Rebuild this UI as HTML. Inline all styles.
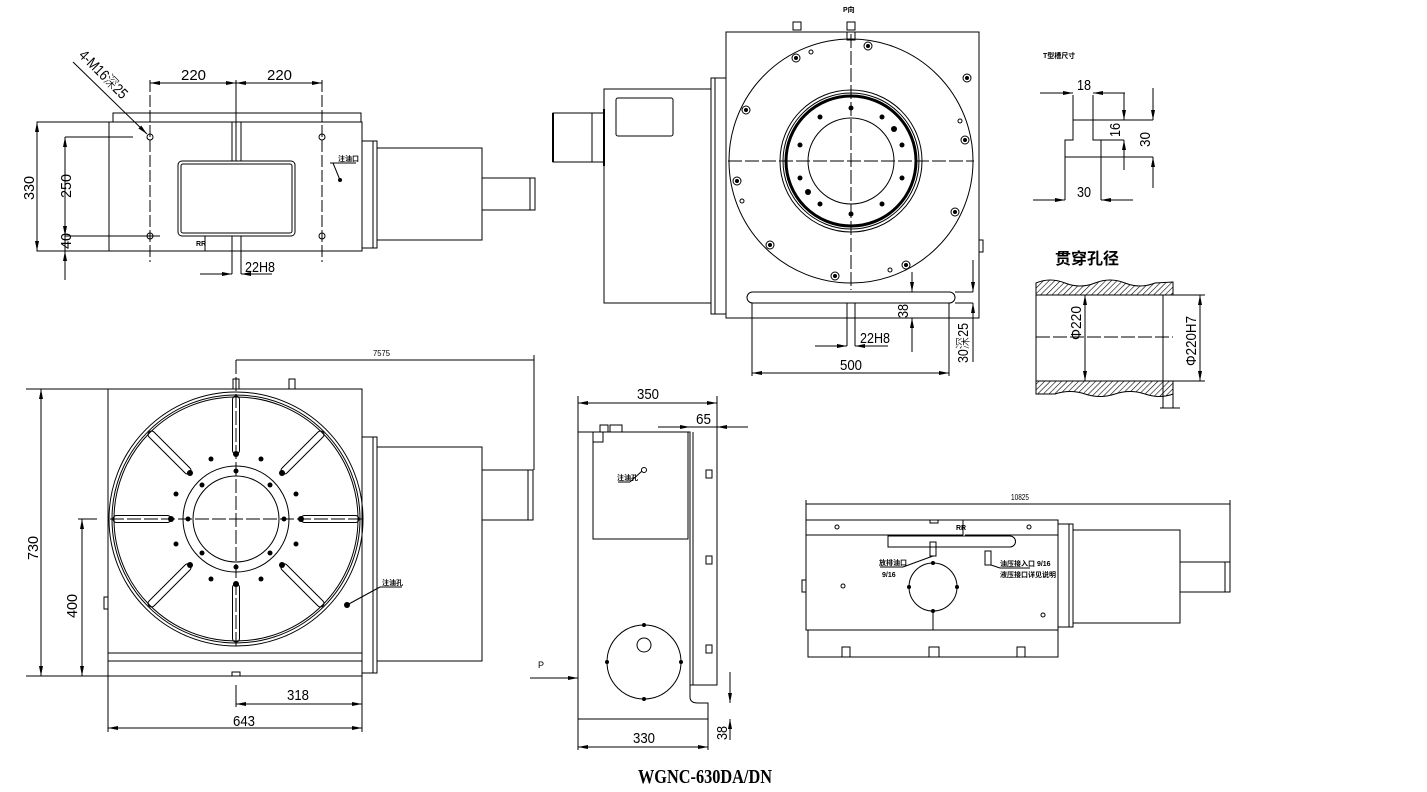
<!DOCTYPE html>
<html><head><meta charset="utf-8"><style>
html,body{margin:0;padding:0;background:#fff;}
svg{display:block;}
text{font-family:"Liberation Sans","Noto Sans CJK SC",sans-serif;fill:#000;}
.d{font-size:15px;font-weight:300;}
.s{font-size:7px;font-weight:bold;}
</style></head><body>
<svg width="1427" height="792" viewBox="0 0 1427 792" xmlns="http://www.w3.org/2000/svg">
<defs>
<marker id="a" viewBox="0 0 10 4" refX="10" refY="2" markerWidth="10" markerHeight="4" orient="auto-start-reverse" markerUnits="userSpaceOnUse"><path d="M0,0 L10,2 L0,4 z" fill="#000"/></marker>
<pattern id="h" width="4" height="4" patternUnits="userSpaceOnUse" patternTransform="rotate(45)"><line x1="0" y1="0" x2="0" y2="4" stroke="#000" stroke-width="1.2"/></pattern>
</defs>
<g fill="none" stroke="#000" stroke-width="1">

<!-- ===== VIEW 1 (top-left) ===== -->
<rect x="37" y="122" width="325" height="129"/>
<rect x="113" y="113" width="248" height="9"/>
<line x1="109" y1="122" x2="109" y2="251"/>
<rect x="178" y="161" width="117" height="75" rx="4"/>
<rect x="181" y="164" width="111" height="69" rx="2"/>
<line x1="232" y1="122" x2="232" y2="161"/><line x1="241" y1="122" x2="241" y2="161"/>
<line x1="232" y1="236" x2="232" y2="251"/><line x1="241" y1="236" x2="241" y2="251"/>
<line x1="205" y1="236" x2="205" y2="251"/>
<line x1="236" y1="80" x2="236" y2="161"/>
<line x1="150" y1="80" x2="150" y2="262" stroke-dasharray="12,3"/>
<line x1="322" y1="80" x2="322" y2="262" stroke-dasharray="12,3"/>
<circle cx="150" cy="137" r="3"/><circle cx="322" cy="137" r="3"/>
<circle cx="150" cy="236" r="3"/><circle cx="322" cy="236" r="3"/>
<line x1="150" y1="83" x2="236" y2="83" marker-start="url(#a)" marker-end="url(#a)"/>
<line x1="236" y1="83" x2="322" y2="83" marker-start="url(#a)" marker-end="url(#a)"/>
<line x1="37" y1="122" x2="37" y2="251" marker-start="url(#a)" marker-end="url(#a)"/>
<line x1="65" y1="137" x2="133" y2="137"/><line x1="65" y1="236" x2="160" y2="236"/>
<line x1="65" y1="137" x2="65" y2="236" marker-start="url(#a)" marker-end="url(#a)"/>
<line x1="65" y1="236" x2="65" y2="251"/>
<line x1="65" y1="280" x2="65" y2="251" marker-end="url(#a)"/>
<line x1="232" y1="251" x2="232" y2="274"/><line x1="241" y1="251" x2="241" y2="274"/>
<line x1="200" y1="274" x2="232" y2="274" marker-end="url(#a)"/>
<line x1="272" y1="274" x2="241" y2="274" marker-end="url(#a)"/>
<line x1="73" y1="62" x2="147" y2="134" marker-end="url(#a)"/>
<line x1="330" y1="163" x2="356" y2="163"/><line x1="333" y1="163" x2="340" y2="180"/>
<circle cx="340" cy="180" r="1.5" fill="#000"/>
<rect x="362" y="141" width="15" height="107"/><line x1="373" y1="141" x2="373" y2="248"/>
<rect x="377" y="148" width="105" height="92"/>
<rect x="482" y="178" width="48" height="32"/><rect x="530" y="178" width="5" height="32"/>

<!-- ===== VIEW 2 (top-middle) ===== -->
<rect x="604" y="89" width="107" height="214"/>
<rect x="711" y="78" width="15" height="236"/><line x1="715" y1="78" x2="715" y2="314"/>
<rect x="726" y="32" width="253" height="286"/>
<rect x="553" y="113" width="39" height="49"/><line x1="553" y1="113" x2="553" y2="162" stroke-width="2"/>
<line x1="592" y1="113" x2="604" y2="113"/><line x1="592" y1="162" x2="604" y2="162"/>
<line x1="604" y1="109" x2="604" y2="166" stroke-width="2"/>
<rect x="616" y="98" width="57" height="38" rx="2"/>
<circle cx="851" cy="161" r="122"/>
<circle cx="851" cy="161" r="71"/><circle cx="851" cy="161" r="68"/>
<circle cx="851" cy="161" r="65" stroke-width="3"/>
<circle cx="851" cy="161" r="43"/>
<line x1="728" y1="161" x2="974" y2="161" stroke-dasharray="14,3"/>
<line x1="851" y1="34" x2="851" y2="290" stroke-dasharray="14,3"/>
<rect x="847" y="32" width="8" height="8"/>
<rect x="793" y="22" width="8" height="8"/><rect x="847" y="22" width="8" height="8"/>
<rect x="979" y="240" width="4" height="12"/>
<rect x="747" y="292" width="208" height="11" rx="5.5"/>
<line x1="847" y1="303" x2="847" y2="346"/><line x1="855" y1="303" x2="855" y2="318"/>
<line x1="815" y1="346" x2="847" y2="346" marker-end="url(#a)"/>
<line x1="888" y1="346" x2="855" y2="346" marker-end="url(#a)"/>
<line x1="855" y1="318" x2="855" y2="346"/>
<line x1="912" y1="272" x2="912" y2="292" marker-end="url(#a)"/>
<line x1="912" y1="352" x2="912" y2="318" marker-end="url(#a)"/>
<line x1="955" y1="292" x2="973" y2="292"/><line x1="955" y1="303" x2="973" y2="303"/>
<line x1="973" y1="260" x2="973" y2="292" marker-end="url(#a)"/>
<line x1="973" y1="362" x2="973" y2="303" marker-end="url(#a)"/>
<line x1="752" y1="303" x2="752" y2="376"/><line x1="949" y1="303" x2="949" y2="376"/>
<line x1="752" y1="373" x2="949" y2="373" marker-start="url(#a)" marker-end="url(#a)"/>
<g>
<circle cx="746" cy="110" r="4"/><circle cx="796" cy="58" r="4"/><circle cx="967" cy="78" r="4"/><circle cx="965" cy="140" r="4"/>
<circle cx="737" cy="181" r="4"/><circle cx="955" cy="212" r="4"/><circle cx="770" cy="245" r="4"/><circle cx="906" cy="265" r="4"/><circle cx="835" cy="276" r="4"/><circle cx="868" cy="46" r="4"/>
<circle cx="811" cy="52" r="2"/><circle cx="960" cy="121" r="2"/><circle cx="742" cy="201" r="2"/><circle cx="890" cy="270" r="2"/>
</g>

<!-- ===== T slot ===== -->
<path d="M1073,95 V140 H1065 V200 M1093,95 V140 H1101 V200"/>
<line x1="1073" y1="120" x2="1153" y2="120"/><line x1="1065" y1="157" x2="1153" y2="157"/>
<line x1="1040" y1="93" x2="1073" y2="93" marker-end="url(#a)"/>
<line x1="1125" y1="93" x2="1093" y2="93" marker-end="url(#a)"/>
<line x1="1124" y1="93" x2="1124" y2="120" marker-end="url(#a)"/>
<line x1="1124" y1="170" x2="1124" y2="140" marker-end="url(#a)"/>
<line x1="1101" y1="140" x2="1124" y2="140"/>
<line x1="1153" y1="88" x2="1153" y2="120" marker-end="url(#a)"/>
<line x1="1153" y1="188" x2="1153" y2="157" marker-end="url(#a)"/>
<line x1="1033" y1="200" x2="1065" y2="200" marker-end="url(#a)"/>
<line x1="1133" y1="200" x2="1101" y2="200" marker-end="url(#a)"/>

<!-- ===== Through hole ===== -->
<path d="M1036,283 Q1050,277 1065,283 T1095,283 T1125,283 T1155,283 L1173,282 V295 H1036 Z" fill="url(#h)"/>
<path d="M1036,381 H1173 V394 Q1160,399 1145,394 T1115,394 T1085,394 T1055,394 L1036,394 Z" fill="url(#h)"/>
<line x1="1036" y1="295" x2="1036" y2="381"/>
<line x1="1163" y1="295" x2="1163" y2="408"/><line x1="1173" y1="394" x2="1173" y2="408"/>
<line x1="1036" y1="337" x2="1173" y2="337" stroke-dasharray="14,3"/>
<line x1="1085" y1="295" x2="1085" y2="381" marker-start="url(#a)" marker-end="url(#a)"/>
<line x1="1173" y1="295" x2="1205" y2="295"/><line x1="1173" y1="381" x2="1205" y2="381"/>
<line x1="1200" y1="295" x2="1200" y2="381" marker-start="url(#a)" marker-end="url(#a)"/>
<line x1="1160" y1="408" x2="1180" y2="408"/>

<!-- ===== VIEW 3 (bottom-left) ===== -->
<rect x="108" y="389" width="254" height="287"/>
<line x1="108" y1="653" x2="362" y2="653"/><line x1="108" y1="661" x2="362" y2="661"/>
<rect x="232" y="672" width="8" height="4"/>
<rect x="233" y="379" width="6" height="10"/><rect x="289" y="379" width="6" height="10"/>
<circle cx="236" cy="519" r="127"/><circle cx="236" cy="519" r="124"/><circle cx="236" cy="519" r="122"/>
<circle cx="236" cy="519" r="53"/><circle cx="236" cy="519" r="43"/>
<line x1="110" y1="519" x2="362" y2="519" stroke-dasharray="14,3"/>
<line x1="236" y1="360" x2="236" y2="648" stroke-dasharray="14,3"/>
<g>
<rect x="232.5" y="396" width="7" height="58" rx="3.5"/>
<rect x="232.5" y="396" width="7" height="58" rx="3.5" transform="rotate(45 236 519)"/>
<rect x="232.5" y="396" width="7" height="58" rx="3.5" transform="rotate(90 236 519)"/>
<rect x="232.5" y="396" width="7" height="58" rx="3.5" transform="rotate(135 236 519)"/>
<rect x="232.5" y="396" width="7" height="58" rx="3.5" transform="rotate(180 236 519)"/>
<rect x="232.5" y="396" width="7" height="58" rx="3.5" transform="rotate(225 236 519)"/>
<rect x="232.5" y="396" width="7" height="58" rx="3.5" transform="rotate(270 236 519)"/>
<rect x="232.5" y="396" width="7" height="58" rx="3.5" transform="rotate(315 236 519)"/>
</g>
<rect x="362" y="437" width="15" height="236"/><line x1="373" y1="437" x2="373" y2="673"/>
<rect x="377" y="447" width="105" height="214"/>
<rect x="482" y="470" width="46" height="50"/><rect x="528" y="470" width="5" height="50"/>
<rect x="104" y="597" width="4" height="12"/>
<line x1="236" y1="360" x2="534" y2="360"/><line x1="534" y1="355" x2="534" y2="470"/>
<line x1="26" y1="389" x2="108" y2="389"/><line x1="26" y1="676" x2="108" y2="676"/>
<line x1="41" y1="389" x2="41" y2="676" marker-start="url(#a)" marker-end="url(#a)"/>
<line x1="78" y1="519" x2="97" y2="519"/>
<line x1="82" y1="519" x2="82" y2="676" marker-start="url(#a)" marker-end="url(#a)"/>
<line x1="108" y1="676" x2="108" y2="732"/><line x1="362" y1="676" x2="362" y2="732"/>
<line x1="236" y1="685" x2="236" y2="707"/>
<line x1="236" y1="704" x2="362" y2="704" marker-start="url(#a)" marker-end="url(#a)"/>
<line x1="108" y1="728" x2="362" y2="728" marker-start="url(#a)" marker-end="url(#a)"/>
<line x1="347" y1="605" x2="380" y2="587"/><line x1="380" y1="587" x2="402" y2="587"/>

<!-- ===== VIEW 4 (bottom-middle) ===== -->
<path d="M578,432 H690 V697 Q690,703 698,703 H708 V719 H578 Z"/>
<path d="M690,427 H717 V685 H690"/><line x1="693" y1="432" x2="693" y2="685"/>
<rect x="593" y="432" width="95" height="107"/>
<rect x="593" y="432" width="10" height="10"/>
<rect x="600" y="425" width="8" height="7"/><rect x="610" y="425" width="12" height="7"/>
<rect x="706" y="470" width="6" height="8"/><rect x="706" y="556" width="6" height="8"/><rect x="706" y="645" width="6" height="8"/>
<circle cx="644" cy="662" r="37"/><circle cx="644" cy="645" r="7"/>
<line x1="578" y1="396" x2="578" y2="432"/><line x1="717" y1="396" x2="717" y2="427"/>
<line x1="578" y1="403" x2="717" y2="403" marker-start="url(#a)" marker-end="url(#a)"/>
<line x1="658" y1="427" x2="690" y2="427" marker-end="url(#a)"/>
<line x1="748" y1="427" x2="717" y2="427" marker-end="url(#a)"/>
<line x1="530" y1="678" x2="578" y2="678" marker-end="url(#a)"/>
<line x1="578" y1="719" x2="578" y2="750"/><line x1="708" y1="719" x2="708" y2="750"/>
<line x1="578" y1="747" x2="708" y2="747" marker-start="url(#a)" marker-end="url(#a)"/>
<line x1="730" y1="672" x2="730" y2="703" marker-end="url(#a)"/>
<line x1="730" y1="740" x2="730" y2="719" marker-end="url(#a)"/>
<line x1="618" y1="482" x2="630" y2="482"/><line x1="630" y1="482" x2="642" y2="471"/><circle cx="644" cy="470" r="2.5"/>

<!-- ===== VIEW 5 (bottom-right) ===== -->
<rect x="806" y="520" width="252" height="110"/>
<line x1="806" y1="535" x2="963" y2="535"/><line x1="965" y1="535" x2="1058" y2="535"/>
<line x1="963" y1="520" x2="963" y2="535"/>
<path d="M888,536 V547 H1010 A5.5,5.5 0 0 0 1010,536 Z"/>
<rect x="930" y="520" width="8" height="3"/>
<circle cx="837" cy="527" r="2"/><circle cx="1029" cy="527" r="2"/><circle cx="1043" cy="615" r="2"/>
<circle cx="843" cy="586" r="2"/>
<rect x="930" y="542" width="6" height="14"/><rect x="985" y="551" width="6" height="14"/>
<circle cx="933" cy="587" r="24"/><line x1="933" y1="611" x2="933" y2="630"/>
<line x1="903" y1="567" x2="933" y2="556"/><line x1="880" y1="567" x2="903" y2="567"/>
<line x1="991" y1="565" x2="1000" y2="568"/><line x1="1000" y1="568" x2="1030" y2="568"/>
<rect x="808" y="630" width="250" height="27"/>
<rect x="802" y="580" width="4" height="12"/>
<rect x="842" y="647" width="8" height="10"/><rect x="929" y="647" width="10" height="10"/><rect x="1017" y="647" width="8" height="10"/>
<rect x="1058" y="524" width="15" height="103"/><line x1="1069" y1="524" x2="1069" y2="627"/>
<rect x="1073" y="530" width="107" height="93"/>
<rect x="1180" y="562" width="45" height="30"/><rect x="1225" y="562" width="5" height="30"/>
<line x1="806" y1="504" x2="1230" y2="504"/><line x1="806" y1="500" x2="806" y2="520"/><line x1="1230" y1="500" x2="1230" y2="562"/>
</g>

<!-- holes (filled) -->
<g fill="#000">
<circle cx="851" cy="108" r="2.5"/><circle cx="851" cy="214" r="2.5"/>
<circle cx="820" cy="117" r="2.5"/><circle cx="882" cy="117" r="2.5"/>
<circle cx="800" cy="145" r="2.5"/><circle cx="902" cy="145" r="2.5"/>
<circle cx="800" cy="178" r="2.5"/><circle cx="902" cy="178" r="2.5"/>
<circle cx="820" cy="204" r="2.5"/><circle cx="882" cy="204" r="2.5"/>
<circle cx="894" cy="129" r="3"/><circle cx="808" cy="192" r="3"/>
<circle cx="746" cy="110" r="2"/><circle cx="796" cy="58" r="2"/><circle cx="967" cy="78" r="2"/><circle cx="965" cy="140" r="2"/>
<circle cx="737" cy="181" r="2"/><circle cx="955" cy="212" r="2"/><circle cx="770" cy="245" r="2"/><circle cx="906" cy="265" r="2"/><circle cx="835" cy="276" r="2"/><circle cx="868" cy="46" r="2"/>
<circle cx="236" cy="454" r="3"/><circle cx="236" cy="584" r="3"/><circle cx="171" cy="519" r="3"/><circle cx="301" cy="519" r="3"/>
<circle cx="190" cy="473" r="3"/><circle cx="282" cy="473" r="3"/><circle cx="190" cy="565" r="3"/><circle cx="282" cy="565" r="3"/>
<circle cx="236" cy="471" r="2.5"/><circle cx="236" cy="567" r="2.5"/><circle cx="188" cy="519" r="2.5"/><circle cx="284" cy="519" r="2.5"/>
<circle cx="202" cy="485" r="2.5"/><circle cx="270" cy="485" r="2.5"/><circle cx="202" cy="553" r="2.5"/><circle cx="270" cy="553" r="2.5"/>
<circle cx="211" cy="459" r="2.5"/><circle cx="261" cy="459" r="2.5"/><circle cx="211" cy="579" r="2.5"/><circle cx="261" cy="579" r="2.5"/>
<circle cx="176" cy="494" r="2.5"/><circle cx="296" cy="494" r="2.5"/><circle cx="176" cy="544" r="2.5"/><circle cx="296" cy="544" r="2.5"/>
<circle cx="347" cy="605" r="3"/>
<circle cx="933" cy="563" r="2"/><circle cx="933" cy="611" r="2"/><circle cx="909" cy="587" r="2"/><circle cx="957" cy="587" r="2"/>
<circle cx="644" cy="625" r="2"/><circle cx="644" cy="699" r="2"/><circle cx="607" cy="662" r="2"/><circle cx="681" cy="662" r="2"/>
</g>

<!-- text -->
<g class="d">
<text x="181" y="80" textLength="25" lengthAdjust="spacingAndGlyphs">220</text>
<text x="267" y="80" textLength="25" lengthAdjust="spacingAndGlyphs">220</text>
<text transform="translate(34,200) rotate(-90)" textLength="24" lengthAdjust="spacingAndGlyphs">330</text>
<text transform="translate(71,198) rotate(-90)" textLength="24" lengthAdjust="spacingAndGlyphs">250</text>
<text transform="translate(71,249) rotate(-90)" textLength="16" lengthAdjust="spacingAndGlyphs">40</text>
<text x="245" y="272" textLength="30" lengthAdjust="spacingAndGlyphs">22H8</text>
<text transform="translate(78,56) rotate(45)" textLength="62" lengthAdjust="spacingAndGlyphs">4-M16深25</text>
<text x="860" y="343" textLength="30" lengthAdjust="spacingAndGlyphs">22H8</text>
<text transform="translate(908,318) rotate(-90)" textLength="14" lengthAdjust="spacingAndGlyphs">38</text>
<text transform="translate(968,363) rotate(-90)" textLength="40" lengthAdjust="spacingAndGlyphs">30深25</text>
<text x="840" y="370" textLength="22" lengthAdjust="spacingAndGlyphs">500</text>
<text x="1077" y="90" textLength="14" lengthAdjust="spacingAndGlyphs">18</text>
<text transform="translate(1120,137) rotate(-90)" textLength="14" lengthAdjust="spacingAndGlyphs">16</text>
<text transform="translate(1150,147) rotate(-90)" textLength="15" lengthAdjust="spacingAndGlyphs">30</text>
<text x="1077" y="197" textLength="14" lengthAdjust="spacingAndGlyphs">30</text>
<text transform="translate(1081,340) rotate(-90)" textLength="34" lengthAdjust="spacingAndGlyphs">Φ220</text>
<text transform="translate(1196,366) rotate(-90)" textLength="50" lengthAdjust="spacingAndGlyphs">Φ220H7</text>
<text transform="translate(38,560) rotate(-90)" textLength="24" lengthAdjust="spacingAndGlyphs">730</text>
<text transform="translate(77,618) rotate(-90)" textLength="24" lengthAdjust="spacingAndGlyphs">400</text>
<text x="287" y="700" textLength="22" lengthAdjust="spacingAndGlyphs">318</text>
<text x="233" y="726" textLength="22" lengthAdjust="spacingAndGlyphs">643</text>
<text x="637" y="399" textLength="22" lengthAdjust="spacingAndGlyphs">350</text>
<text x="696" y="424" textLength="15" lengthAdjust="spacingAndGlyphs">65</text>
<text x="633" y="743" textLength="22" lengthAdjust="spacingAndGlyphs">330</text>
<text transform="translate(727,740) rotate(-90)" textLength="14" lengthAdjust="spacingAndGlyphs">38</text>
</g>
<text x="373" y="356" font-size="8" textLength="17" lengthAdjust="spacingAndGlyphs">7575</text>
<text x="1011" y="500" font-size="8" textLength="18" lengthAdjust="spacingAndGlyphs">10825</text>
<text x="538" y="668" font-size="9">P</text>
<text x="843" y="12" class="s" font-size="8">P向</text>
<text x="1043" y="58" class="s" font-size="8">T型槽尺寸</text>
<text x="1055" y="264" font-size="16" font-weight="bold">贯穿孔径</text>
<text class="s" x="338" y="161">注油口</text>
<text class="s" x="382" y="585">注油孔</text>
<text class="s" x="617" y="480">注油孔</text>
<text class="s" x="196" y="246">RR</text>
<text class="s" x="956" y="530">RR</text>
<text class="s" x="879" y="565">放排油口</text>
<text class="s" x="882" y="577">9/16</text>
<text class="s" x="1000" y="566">油压接入口 9/16</text>
<text class="s" x="1000" y="577" font-size="5">液压接口详见说明</text>
<text x="638" y="783" font-size="20" font-weight="bold" textLength="134" lengthAdjust="spacingAndGlyphs" style="font-family:'Liberation Serif',serif">WGNC-630DA/DN</text>
</svg>
</body></html>
